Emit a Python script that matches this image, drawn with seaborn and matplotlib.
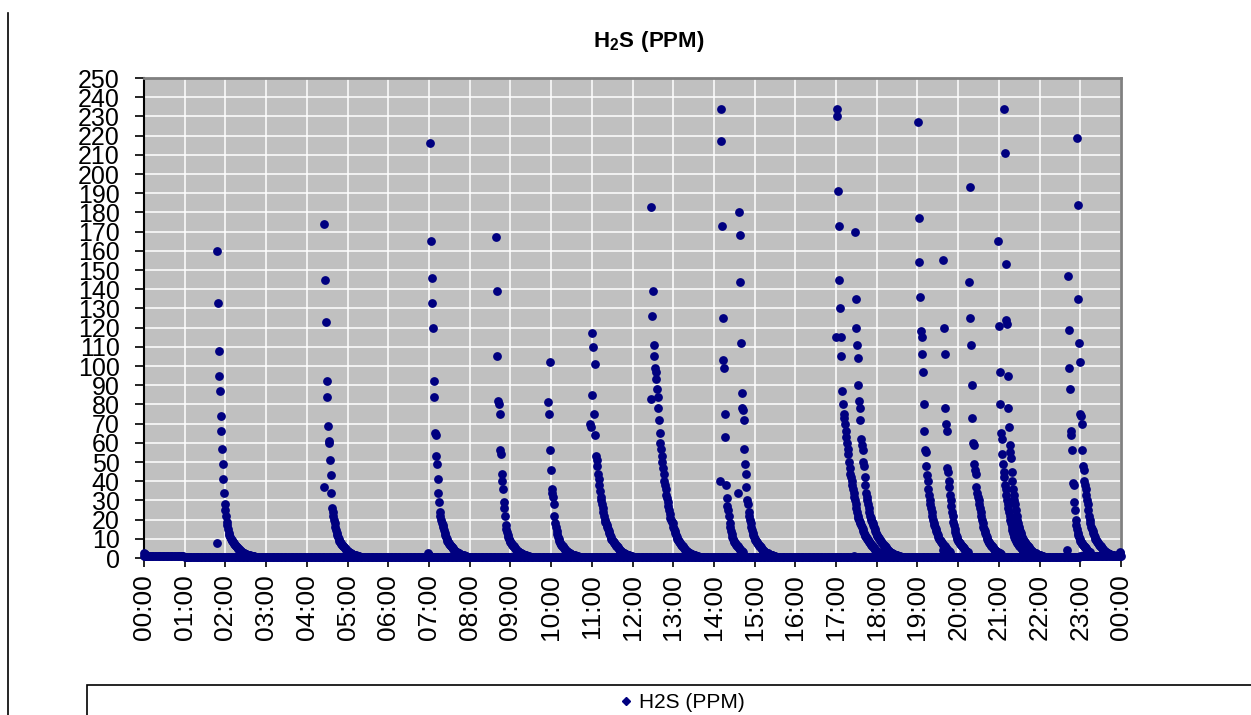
import numpy as np
import pandas as pd
import matplotlib
matplotlib.use("Agg")
import matplotlib.pyplot as plt
import seaborn as sns
from matplotlib.patches import Rectangle
from matplotlib.lines import Line2D

# H2S readings (PPM), one reading per minute, starting at the given clock time
start_0000 = "00:00"
ppm_0000 = [2.5, 2, 1.8, 1.5, 1.2, 1.0]

start_0147 = "01:47"
ppm_0147 = [8, 160, 133, 108, 95, 87, 74, 66, 57, 49, 41, 34, 28, 25, 22, 19, 17, 15, 13, 12, 11,
            10, 9.5, 9, 8.5, 8, 7.5, 7, 6.5, 6, 5.6, 5.2, 4.8, 4.5, 4.2, 3.9, 3.6, 3.3, 3, 2.8, 2.6,
            2.4, 2.2, 2, 1.9, 1.8, 1.7, 1.6, 1.5, 1.4, 1.3, 1.2, 1.1, 1.0, 0.9, 0.8]

start_0425 = "04:25"
ppm_0425 = [37, 174, 145, 123, 92, 84, 69, 61, 60, 51, 43, 34, 26, 24, 22, 20, 18, 16, 14.5, 13, 12,
            11, 10, 9, 8.5, 8, 7.5, 7, 6.5, 6, 5.5, 5, 4.6, 4.2, 3.9, 3.6, 3.3, 3, 2.8, 2.6, 2.4,
            2.2, 2, 1.8, 1.7, 1.6, 1.5, 1.4, 1.3, 1.2, 1.1, 1.0, 0.9]

start_0659 = "06:59"
ppm_0659 = [2.5, 1.5, 1, 216, 165, 146, 133, 120, 92, 84, 65, 64, 53, 49, 41, 34, 29, 24, 22, 20, 18,
            17, 16, 14.5, 13, 12, 11, 10, 9, 8.5, 8, 7.5, 7, 6.5, 6, 5.5, 5, 4.6, 4.2, 3.9, 3.6, 3.3,
            3, 2.8, 2.6, 2.4, 2.2, 2, 1.8, 1.7, 1.6, 1.5, 1.4, 1.3, 1.2, 1.1, 1.0]

start_0839 = "08:39"
ppm_0839 = [167, 139, 105, 82, 80, 75, 56, 54, 44, 40, 36, 29, 26, 22, 17, 15, 13.5, 12, 11, 10, 9,
            8.5, 8, 7.5, 7, 6.5, 6, 5.5, 5, 4.6, 4.2, 3.9, 3.6, 3.3, 3, 2.8, 2.6, 2.4, 2.2, 2, 1.8,
            1.7, 1.6, 1.5, 1.4, 1.3, 1.2, 1.1, 1.0]

start_0956 = "09:56"
ppm_0956 = [81, 75, 102, 56, 46, 36, 34, 32, 28, 22, 18, 16, 14, 12.5, 11, 10, 9, 8, 7.5, 7, 6.5, 6,
            5.5, 5, 4.6, 4.2, 3.9, 3.6, 3.3, 3, 2.8, 2.6, 2.4, 2.2, 2, 1.8, 1.7, 1.6, 1.5, 1.4, 1.3,
            1.2, 1.1, 1.0]

start_1058 = "10:58"
ppm_1058 = [70, 68, 117, 85, 110, 75, 101, 64, 53, 51, 48, 44, 41, 38, 35, 32, 30, 28, 26, 24, 22,
            20, 19, 18, 17, 16, 15, 14, 13, 12, 11, 10, 9.5, 9, 8.5, 8, 7.5, 7, 6.5, 6, 5.5, 5, 4.6,
            4.2, 3.9, 3.6, 3.3, 3, 2.8, 2.6, 2.4, 2.2, 2, 1.8, 1.7, 1.6, 1.5, 1.4, 1.3, 1.2, 1.1, 1.0]

start_1227 = "12:27"
ppm_1227 = [83, 183, 126, 139, 111, 105, 99, 97, 93, 88, 84, 78, 72, 65, 60, 57, 53, 50, 47, 44, 40,
            38, 36, 33, 31, 29, 27, 25, 23, 21, 20, 19, 18, 16, 15, 14, 13, 12, 11, 10, 9.5, 9, 8.5,
            8, 7.5, 7, 6.5, 6, 5.5, 5, 4.6, 4.2, 3.9, 3.6, 3.3, 3, 2.8, 2.6, 2.4, 2.2, 2, 1.8, 1.7,
            1.6, 1.5, 1.4, 1.3, 1.2, 1.1, 1.0]

start_1409 = "14:09"
ppm_1409 = [40, 234, 217, 173, 125, 103, 99, 75, 63, 38, 31, 27, 25, 22, 18, 16, 14, 12.5, 11, 10, 9,
            8.5, 8, 7.5, 7, 6.5, 6, 5.5, 5, 4.6, 4.2, 3.9, 3.6, 3.3, 3]

start_1436 = "14:36"
ppm_1436 = [34, 180, 168, 144, 112, 86, 78, 77, 72, 57, 49, 44, 37, 30, 28, 24, 22, 20, 18, 16, 14.5,
            13, 12, 11, 10, 9.5, 9, 8.5, 8, 7.5, 7, 6.5, 6, 5.5, 5, 4.6, 4.2, 3.9, 3.6, 3.3, 3, 2.8,
            2.6, 2.4, 2.2, 2, 1.8, 1.7, 1.6, 1.5, 1.4, 1.3, 1.2, 1.1, 1.0]

start_1700 = "17:00"
ppm_1700 = [115, 234, 230, 191, 173, 145, 130, 115, 105, 87, 80, 75, 73, 70, 66, 63, 60, 57, 54, 50,
            47, 44, 42, 40, 38, 36, 34, 32, 30, 28, 26, 24, 22, 21, 20, 19, 18, 17, 16, 15, 14, 13,
            12, 11.5, 11, 10.5, 10, 9.5, 9, 8.5, 8, 7.5, 7, 6.5, 6, 5.5, 5, 4.6, 4.2, 3.9, 3.6, 3.3,
            3, 2.8, 2.6, 2.4, 2.2, 2, 1.8, 1.7, 1.6, 1.5, 1.4, 1.3, 1.2, 1.1, 1.0]

start_1727 = "17:27"
ppm_1727 = [1, 170, 135, 120, 111, 104, 90, 82, 78, 72, 62, 59, 56, 50, 48, 42, 38, 34, 32, 30, 28,
            26, 24, 22, 21, 20, 19, 18, 17, 16, 15, 14, 13, 12, 11.5, 11, 10.5, 10, 9.5, 9, 8.5, 8,
            7.5, 7, 6.5, 6, 5.5, 5, 4.6, 4.2, 3.9, 3.6, 3.3, 3, 2.8, 2.6, 2.4, 2.2, 2, 1.8, 1.7, 1.6,
            1.5, 1.4, 1.3, 1.2, 1.1, 1.0]

start_1901 = "19:01"
ppm_1901 = [227, 177, 154, 136, 118, 115, 106, 97, 80, 66, 56, 55, 48, 43, 40, 36, 33, 30, 28, 26,
            24, 22, 20, 18, 17, 16, 15, 14, 13, 12, 11, 10, 9.5, 9, 8.5, 8, 7.5, 7, 6.5, 6, 5.5, 5,
            4.6, 4.2, 3.9, 3.6, 3.3, 3]

start_1937 = "19:37"
ppm_1937 = [4, 155, 120, 106, 78, 70, 66, 47, 45, 40, 37, 33, 30, 27, 24, 22, 19, 17, 15, 13.5, 12,
            11, 10, 9, 8.5, 8, 7.5, 7, 6.5, 6, 5.5, 5, 4.6, 4.2, 3.9, 3.6, 3.3, 3]

start_2016 = "20:16"
ppm_2016 = [144, 193, 125, 111, 90, 73, 60, 59, 49, 46, 44, 37, 34, 32, 30, 28, 26, 24, 22, 20, 18,
            16, 15, 14, 13, 12, 11, 10, 9, 8.5, 8, 7.5, 7, 6.5, 6, 5.5, 5, 4.6, 4.2, 3.9, 3.6, 3.3,
            3, 2.8, 2.6, 2.4, 2.2, 2]

start_2059 = "20:59"
ppm_2059 = [165, 121, 97, 80, 65, 62, 54, 49, 45, 42, 38, 36, 33, 30, 28, 26, 24, 22, 20, 18, 16,
            14.5, 13, 12, 11, 10, 9, 8.5, 8, 7.5, 7, 6.5, 6, 5.5, 5, 4.6, 4.2, 3.9, 3.6, 3.3, 3, 2.8,
            2.6, 2.4, 2.2, 2]

start_2108 = "21:08"
ppm_2108 = [234, 211, 153, 124, 122, 95, 78, 68, 59, 55, 52, 45, 40, 36, 33, 30, 28, 25, 22, 20, 18,
            16, 15, 14, 13, 12, 11, 10, 9.5, 9, 8.5, 8, 7.5, 7, 6.5, 6, 5.5, 5, 4.6, 4.2, 3.9, 3.6,
            3.3, 3, 2.8, 2.6, 2.4, 2.2, 2, 1.8, 1.7, 1.6, 1.5, 1.4, 1.3, 1.2, 1.1, 1.0]

start_2241 = "22:41"
ppm_2241 = [4, 147, 119, 99, 88, 66, 64, 56, 39, 38, 29, 25, 20, 17, 15, 13, 12, 11, 10, 9, 8.5, 8,
            7.5, 7, 6.5, 6, 5.5, 5, 4.6, 4.2, 3.9, 3.6, 3.3, 3]

start_2255 = "22:55"
ppm_2255 = [219, 184, 135, 112, 102, 75, 74, 70, 56, 48, 46, 40, 38, 36, 33, 30, 28, 25, 22, 20, 18,
            16, 15, 14, 13, 12, 11, 10, 9.5, 9, 8.5, 8, 7.5, 7, 6.5, 6, 5.5, 5, 4.6, 4.2, 3.9, 3.6,
            3.3, 3, 2.8, 2.6, 2.4, 2.2, 2, 1.9, 1.8, 1.7, 1.6, 1.5, 1.4, 1.3, 1.2, 1.1, 1.0, 1.0, 1.2,
            1.5, 2.0, 2.5, 3]

# quiet-time sensor level for each hour of the day (PPM), read every 2 minutes
hourly_baseline = [1.0, 0.6, 0.6, 0.6, 0.6, 0.6, 0.6, 0.6, 0.6, 0.6, 0.6, 0.6,
                   0.6, 0.6, 0.6, 0.6, 0.6, 0.6, 0.6, 0.6, 0.6, 0.6, 0.6, 1.0]
baseline_step_min = 2

hour_labels = ["00:00", "01:00", "02:00", "03:00", "04:00", "05:00", "06:00", "07:00",
               "08:00", "09:00", "10:00", "11:00", "12:00", "13:00", "14:00", "15:00",
               "16:00", "17:00", "18:00", "19:00", "20:00", "21:00", "22:00", "23:00", "00:00"]
y_ticks = list(range(0, 251, 10))

events = [(start_0000, ppm_0000), (start_0147, ppm_0147), (start_0425, ppm_0425),
          (start_0659, ppm_0659), (start_0839, ppm_0839), (start_0956, ppm_0956),
          (start_1058, ppm_1058), (start_1227, ppm_1227), (start_1409, ppm_1409),
          (start_1436, ppm_1436), (start_1700, ppm_1700), (start_1727, ppm_1727),
          (start_1901, ppm_1901), (start_1937, ppm_1937), (start_2016, ppm_2016),
          (start_2059, ppm_2059), (start_2108, ppm_2108), (start_2241, ppm_2241),
          (start_2255, ppm_2255)]


def to_min(hhmm):
    h, m = hhmm.split(":")
    return int(h) * 60 + int(m)


rows = []
for h, lvl in enumerate(hourly_baseline):
    for m in range(0, 60, baseline_step_min):
        rows.append((h * 60 + m, lvl))
rows.append((1440, 1.0))
for st, vals in events:
    t0 = to_min(st)
    for i, v in enumerate(vals):
        rows.append((t0 + i, v))
df = pd.DataFrame(rows, columns=["minute", "ppm"])

W, H = 1251, 715
fig = plt.figure(figsize=(W / 100, H / 100), dpi=100)
plt.rcParams["font.family"] = ["Liberation Sans", "DejaVu Sans"]
plt.rcParams["mathtext.fontset"] = "custom"
plt.rcParams["mathtext.rm"] = "Liberation Sans"
plt.rcParams["mathtext.bf"] = "Liberation Sans:bold"

ax = fig.add_axes([144 / W, 1 - 558 / H, (1121 - 144) / W, (558 - 78) / H])
ax.set_facecolor("#c0c0c0")

sns.scatterplot(data=df, x="minute", y="ppm", ax=ax, color="#000080", s=40,
                linewidth=0, marker="o", legend=False, clip_on=False, zorder=3)

ax.set_xlim(0, 1440)
ax.set_ylim(0, 250)
ax.set_xticks(range(0, 1441, 60))
ax.set_xticklabels(hour_labels, rotation=90, fontsize=19)
ax.set_yticks(y_ticks)
ax.set_yticklabels([str(v) for v in y_ticks], fontsize=18)
ax.tick_params(axis="x", direction="out", length=6.5, width=1.2, pad=5)
ax.tick_params(axis="y", direction="out", length=6.5, width=1.2, pad=11)
ax.set_xlabel("")
ax.set_ylabel("")
ax.grid(True, color="white", linewidth=1.1)
ax.set_axisbelow(True)
for side in ["left", "bottom"]:
    ax.spines[side].set_color("black")
    ax.spines[side].set_linewidth(1.5)
for side in ["top", "right"]:
    ax.spines[side].set_color("#808080")
    ax.spines[side].set_linewidth(2)

fig.text(649 / W, 1 - 41 / H, r"$\mathbf{H_2S\ (PPM)}$", ha="center", va="center", fontsize=16)

# legend box along the bottom and the chart frame line on the left
fig.add_artist(Rectangle((87 / W, -0.1), 2, (715 - 685) / H + 0.1, transform=fig.transFigure,
                         fill=False, edgecolor="black", linewidth=1.2))
fig.add_artist(Line2D([7.5 / W, 7.5 / W], [1 - 13 / H, 0], transform=fig.transFigure,
                      color="black", linewidth=1.2))
handle = Line2D([], [], marker="D", linestyle="none", color="#000080", markersize=4)
fig.legend([handle], ["H2S (PPM)"], loc="center", bbox_to_anchor=(680 / W, 1 - 703 / H),
           frameon=False, fontsize=15, handletextpad=0.1, handlelength=1.0)

fig.savefig("out.png", dpi=100)
